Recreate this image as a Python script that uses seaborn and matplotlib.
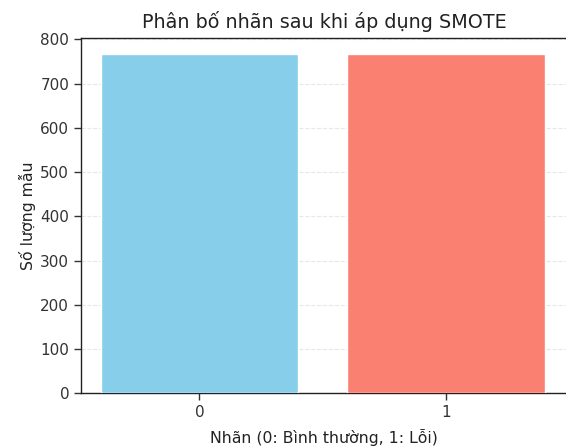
import matplotlib
matplotlib.use("Agg")
import matplotlib.pyplot as plt
import seaborn as sns
import pandas as pd

# Class counts after SMOTE oversampling
labels = ["0", "1"]
counts = [766, 766]
colors = ["skyblue", "salmon"]

df = pd.DataFrame({"label": labels, "count": counts})

sns.set_style("ticks")
plt.rcParams["font.family"] = ["DejaVu Sans"]

fig = plt.figure(figsize=(5.66, 4.47), dpi=100)
ax = fig.add_axes([0.143, 0.120, 0.859, 0.796])

sns.barplot(data=df, x="label", y="count", hue="label", palette=colors,
            legend=False, width=0.8, saturation=1, ax=ax, zorder=3)

ax.set_xlim(-0.48, 1.49)
ax.set_ylim(0, 804)
ax.set_yticks(range(0, 801, 100))
ax.yaxis.grid(True, linestyle="--", color="#d0d0d0", alpha=0.5, linewidth=0.8, zorder=0)
ax.set_axisbelow(True)

ax.set_title("Phân bố nhãn sau khi áp dụng SMOTE", fontsize=13.8, color="#222222", pad=7)
ax.set_xlabel("Nhãn (0: Bình thường, 1: Lỗi)", fontsize=11.3, labelpad=6, color="#222222")
ax.set_ylabel("Số lượng mẫu", fontsize=11.3, labelpad=3, color="#222222")
ax.tick_params(labelsize=11, length=5, width=1.0, colors="#333333")
for s in ax.spines.values():
    s.set_linewidth(1.0)
    s.set_color("#222222")

fig.savefig("out.png", dpi=100)
